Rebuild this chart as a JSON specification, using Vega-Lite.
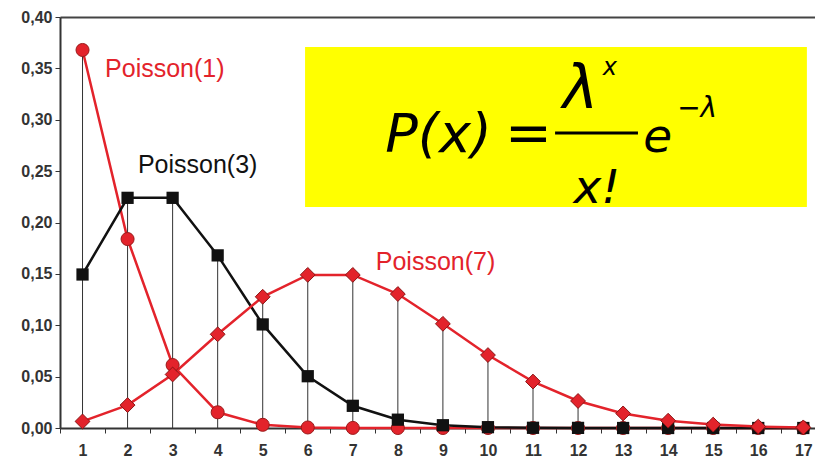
{
  "$schema": "https://vega.github.io/schema/vega-lite/v6.json",
  "width": 755,
  "height": 411,
  "autosize": {"type": "none"},
  "padding": {"left": 60, "top": 17, "right": 0, "bottom": 32},
  "background": "white",
  "config": {"view": {"stroke": null}, "font": "Liberation Sans"},
  "datasets": {
    "pmf": [
      {"x": 1, "dist": "Poisson(1)", "p": 0.3679}, {"x": 2, "dist": "Poisson(1)", "p": 0.1839}, {"x": 3, "dist": "Poisson(1)", "p": 0.0613},
      {"x": 4, "dist": "Poisson(1)", "p": 0.0153}, {"x": 5, "dist": "Poisson(1)", "p": 0.0031}, {"x": 6, "dist": "Poisson(1)", "p": 0.0005},
      {"x": 7, "dist": "Poisson(1)", "p": 0.0001}, {"x": 8, "dist": "Poisson(1)", "p": 0.0}, {"x": 9, "dist": "Poisson(1)", "p": 0.0},
      {"x": 10, "dist": "Poisson(1)", "p": 0.0}, {"x": 11, "dist": "Poisson(1)", "p": 0.0}, {"x": 12, "dist": "Poisson(1)", "p": 0.0},
      {"x": 13, "dist": "Poisson(1)", "p": 0.0}, {"x": 14, "dist": "Poisson(1)", "p": 0.0}, {"x": 15, "dist": "Poisson(1)", "p": 0.0},
      {"x": 16, "dist": "Poisson(1)", "p": 0.0}, {"x": 17, "dist": "Poisson(1)", "p": 0.0},
      {"x": 1, "dist": "Poisson(3)", "p": 0.1494}, {"x": 2, "dist": "Poisson(3)", "p": 0.224}, {"x": 3, "dist": "Poisson(3)", "p": 0.224},
      {"x": 4, "dist": "Poisson(3)", "p": 0.168}, {"x": 5, "dist": "Poisson(3)", "p": 0.1008}, {"x": 6, "dist": "Poisson(3)", "p": 0.0504},
      {"x": 7, "dist": "Poisson(3)", "p": 0.0216}, {"x": 8, "dist": "Poisson(3)", "p": 0.0081}, {"x": 9, "dist": "Poisson(3)", "p": 0.0027},
      {"x": 10, "dist": "Poisson(3)", "p": 0.0008}, {"x": 11, "dist": "Poisson(3)", "p": 0.0002}, {"x": 12, "dist": "Poisson(3)", "p": 0.0001},
      {"x": 13, "dist": "Poisson(3)", "p": 0.0}, {"x": 14, "dist": "Poisson(3)", "p": 0.0}, {"x": 15, "dist": "Poisson(3)", "p": 0.0},
      {"x": 16, "dist": "Poisson(3)", "p": 0.0}, {"x": 17, "dist": "Poisson(3)", "p": 0.0},
      {"x": 1, "dist": "Poisson(7)", "p": 0.0064}, {"x": 2, "dist": "Poisson(7)", "p": 0.0223}, {"x": 3, "dist": "Poisson(7)", "p": 0.0521},
      {"x": 4, "dist": "Poisson(7)", "p": 0.0912}, {"x": 5, "dist": "Poisson(7)", "p": 0.1277}, {"x": 6, "dist": "Poisson(7)", "p": 0.149},
      {"x": 7, "dist": "Poisson(7)", "p": 0.149}, {"x": 8, "dist": "Poisson(7)", "p": 0.1304}, {"x": 9, "dist": "Poisson(7)", "p": 0.1014},
      {"x": 10, "dist": "Poisson(7)", "p": 0.071}, {"x": 11, "dist": "Poisson(7)", "p": 0.0452}, {"x": 12, "dist": "Poisson(7)", "p": 0.0263},
      {"x": 13, "dist": "Poisson(7)", "p": 0.0142}, {"x": 14, "dist": "Poisson(7)", "p": 0.0071}, {"x": 15, "dist": "Poisson(7)", "p": 0.0033},
      {"x": 16, "dist": "Poisson(7)", "p": 0.0014}, {"x": 17, "dist": "Poisson(7)", "p": 0.0006}
    ],
    "labels": [
      {"dist": "Poisson(1)", "x": 1.5, "y": 0.3415},
      {"dist": "Poisson(3)", "x": 2.23, "y": 0.248},
      {"dist": "Poisson(7)", "x": 7.51, "y": 0.1537}
    ],
    "box": [{"x": 5.94, "x2": 17.08, "y": 0.3708, "y2": 0.215}],
    "fpx": [{"t": "P(x)", "x": 7.72, "y": 0.2685}],
    "fxe": [
      {"t": "x!", "x": 11.9, "y": 0.2189},
      {"t": "e", "x": 13.45, "y": 0.2685}
    ],
    "feq": [{"t": "=", "x": 10.38, "y": 0.269}],
    "flam": [{"t": "λ", "x": 11.66, "y": 0.3114}],
    "fsupx": [{"t": "x", "x": 12.55, "y": 0.3435}],
    "fsupl": [{"t": "−λ", "x": 14.2, "y": 0.3026}],
    "fbar": [{"x": 11.49, "x2": 13.33, "y": 0.287}]
  },
  "resolve": {"axis": {"x": "independent", "y": "independent"}},
  "layer": [
    {
      "data": {"name": "box"},
      "mark": {"type": "rect", "color": "#ffff00"},
      "encoding": {
        "x": {"field": "x", "type": "quantitative", "scale": {"domain": [0.5, 17.26], "nice": false, "zero": false}, "axis": null},
        "x2": {"field": "x2"},
        "y": {"field": "y", "type": "quantitative", "scale": {"domain": [0, 0.4], "nice": false}, "axis": null},
        "y2": {"field": "y2"}
      }
    },
    {
      "data": {"name": "pmf"},
      "mark": {"type": "rule", "color": "#333333", "strokeWidth": 1},
      "encoding": {
        "x": {"field": "x", "type": "quantitative", "scale": {"domain": [0.5, 17.26], "nice": false, "zero": false},
          "axis": {"orient": "bottom", "values": [0.5, 1.5, 2.5, 3.5, 4.5, 5.5, 6.5, 7.5, 8.5, 9.5, 10.5, 11.5, 12.5, 13.5, 14.5, 15.5, 16.5, 17.5],
            "labels": false, "tickSize": 5, "tickColor": "#333333", "tickWidth": 1, "domainColor": "#333333", "domainWidth": 2, "grid": false, "title": null}},
        "y": {"field": "p", "aggregate": "max", "type": "quantitative", "scale": {"domain": [0, 0.4], "nice": false},
          "axis": {"orient": "left", "values": [0, 0.05, 0.1, 0.15, 0.2, 0.25, 0.3, 0.35, 0.4],
            "labelExpr": "replace(format(datum.value, '.2f'), '.', ',')",
            "labelFont": "Liberation Sans", "labelFontSize": 16, "labelFontWeight": "bold", "labelColor": "#333333",
            "labelPadding": 3, "tickSize": 5, "tickColor": "#333333", "domainColor": "#333333", "domainWidth": 2,
            "grid": false, "title": null}},
        "y2": {"datum": 0}
      }
    },
    {
      "data": {"name": "pmf"},
      "mark": {"type": "line", "strokeWidth": 2.5},
      "encoding": {
        "x": {"field": "x", "type": "quantitative", "scale": {"domain": [0.5, 17.26], "nice": false, "zero": false},
          "axis": {"orient": "bottom", "values": [1, 2, 3, 4, 5, 6, 7, 8, 9, 10, 11, 12, 13, 14, 15, 16, 17],
            "ticks": false, "domain": false, "labelFont": "Liberation Sans", "labelFontSize": 16, "labelFontWeight": "bold",
            "labelColor": "#333333", "labelPadding": 14, "labelFlush": false, "labelOverlap": false, "grid": false, "title": null}},
        "y": {"field": "p", "type": "quantitative", "scale": {"domain": [0, 0.4], "nice": false}, "axis": null},
        "color": {"field": "dist", "type": "nominal", "scale": {"domain": ["Poisson(1)", "Poisson(3)", "Poisson(7)"], "range": ["#e3232b", "#111111", "#e3232b"]}, "legend": null}
      }
    },
    {
      "data": {"name": "pmf"},
      "transform": [{"filter": "datum.dist === 'Poisson(1)'"}],
      "mark": {"type": "point", "shape": "circle", "filled": true, "size": 170, "fill": "#e3232b", "stroke": "#9a1a1a", "strokeWidth": 1, "opacity": 1},
      "encoding": {
        "x": {"field": "x", "type": "quantitative", "scale": {"domain": [0.5, 17.26], "nice": false, "zero": false}, "axis": null},
        "y": {"field": "p", "type": "quantitative", "scale": {"domain": [0, 0.4], "nice": false}, "axis": null}
      }
    },
    {
      "data": {"name": "pmf"},
      "transform": [{"filter": "datum.dist === 'Poisson(3)'"}],
      "mark": {"type": "point", "shape": "square", "filled": true, "size": 150, "fill": "#111111", "opacity": 1},
      "encoding": {
        "x": {"field": "x", "type": "quantitative", "scale": {"domain": [0.5, 17.26], "nice": false, "zero": false}, "axis": null},
        "y": {"field": "p", "type": "quantitative", "scale": {"domain": [0, 0.4], "nice": false}, "axis": null}
      }
    },
    {
      "data": {"name": "pmf"},
      "transform": [{"filter": "datum.dist === 'Poisson(7)'"}],
      "mark": {"type": "point", "shape": "diamond", "filled": true, "size": 220, "fill": "#e3232b", "stroke": "#8a1515", "strokeWidth": 1, "opacity": 1},
      "encoding": {
        "x": {"field": "x", "type": "quantitative", "scale": {"domain": [0.5, 17.26], "nice": false, "zero": false}, "axis": null},
        "y": {"field": "p", "type": "quantitative", "scale": {"domain": [0, 0.4], "nice": false}, "axis": null}
      }
    },
    {
      "data": {"name": "labels"},
      "mark": {"type": "text", "align": "left", "baseline": "alphabetic", "font": "Liberation Sans", "fontSize": 25},
      "encoding": {
        "x": {"field": "x", "type": "quantitative", "scale": {"domain": [0.5, 17.26], "nice": false, "zero": false},
          "axis": {"orient": "top", "labels": false, "ticks": false, "domainColor": "#444444", "domainWidth": 2, "grid": false, "title": null}},
        "y": {"field": "y", "type": "quantitative", "scale": {"domain": [0, 0.4], "nice": false}, "axis": null},
        "text": {"field": "dist"},
        "color": {"field": "dist", "type": "nominal", "scale": {"domain": ["Poisson(1)", "Poisson(3)", "Poisson(7)"], "range": ["#e3232b", "#111111", "#e3232b"]}, "legend": null}
      }
    },
    {
      "data": {"name": "fpx"},
      "mark": {"type": "text", "align": "left", "baseline": "alphabetic", "font": "DejaVu Sans", "fontStyle": "italic", "fontSize": 54, "color": "#000000"},
      "encoding": {
        "x": {"field": "x", "type": "quantitative", "scale": {"domain": [0.5, 17.26], "nice": false, "zero": false}, "axis": null},
        "y": {"field": "y", "type": "quantitative", "scale": {"domain": [0, 0.4], "nice": false}, "axis": null},
        "text": {"field": "t"}
      }
    },
    {
      "data": {"name": "fxe"},
      "mark": {"type": "text", "align": "left", "baseline": "alphabetic", "font": "DejaVu Sans", "fontStyle": "italic", "fontSize": 47, "color": "#000000"},
      "encoding": {
        "x": {"field": "x", "type": "quantitative", "scale": {"domain": [0.5, 17.26], "nice": false, "zero": false}, "axis": null},
        "y": {"field": "y", "type": "quantitative", "scale": {"domain": [0, 0.4], "nice": false}, "axis": null},
        "text": {"field": "t"}
      }
    },
    {
      "data": {"name": "feq"},
      "mark": {"type": "text", "align": "left", "baseline": "alphabetic", "font": "DejaVu Sans", "fontSize": 56, "color": "#000000"},
      "encoding": {
        "x": {"field": "x", "type": "quantitative", "scale": {"domain": [0.5, 17.26], "nice": false, "zero": false}, "axis": null},
        "y": {"field": "y", "type": "quantitative", "scale": {"domain": [0, 0.4], "nice": false}, "axis": null},
        "text": {"field": "t"}
      }
    },
    {
      "data": {"name": "flam"},
      "mark": {"type": "text", "align": "left", "baseline": "alphabetic", "font": "DejaVu Sans", "fontStyle": "italic", "fontSize": 60, "color": "#000000"},
      "encoding": {
        "x": {"field": "x", "type": "quantitative", "scale": {"domain": [0.5, 17.26], "nice": false, "zero": false}, "axis": null},
        "y": {"field": "y", "type": "quantitative", "scale": {"domain": [0, 0.4], "nice": false}, "axis": null},
        "text": {"field": "t"}
      }
    },
    {
      "data": {"name": "fsupx"},
      "mark": {"type": "text", "align": "left", "baseline": "alphabetic", "font": "DejaVu Sans", "fontStyle": "italic", "fontSize": 24, "color": "#000000"},
      "encoding": {
        "x": {"field": "x", "type": "quantitative", "scale": {"domain": [0.5, 17.26], "nice": false, "zero": false}, "axis": null},
        "y": {"field": "y", "type": "quantitative", "scale": {"domain": [0, 0.4], "nice": false}, "axis": null},
        "text": {"field": "t"}
      }
    },
    {
      "data": {"name": "fsupl"},
      "mark": {"type": "text", "align": "left", "baseline": "alphabetic", "font": "DejaVu Sans", "fontStyle": "italic", "fontSize": 28, "color": "#000000"},
      "encoding": {
        "x": {"field": "x", "type": "quantitative", "scale": {"domain": [0.5, 17.26], "nice": false, "zero": false}, "axis": null},
        "y": {"field": "y", "type": "quantitative", "scale": {"domain": [0, 0.4], "nice": false}, "axis": null},
        "text": {"field": "t"}
      }
    },
    {
      "data": {"name": "fbar"},
      "mark": {"type": "rule", "color": "#000000", "strokeWidth": 3},
      "encoding": {
        "x": {"field": "x", "type": "quantitative", "scale": {"domain": [0.5, 17.26], "nice": false, "zero": false}, "axis": null},
        "x2": {"field": "x2"},
        "y": {"field": "y", "type": "quantitative", "scale": {"domain": [0, 0.4], "nice": false}, "axis": null}
      }
    }
  ]
}
